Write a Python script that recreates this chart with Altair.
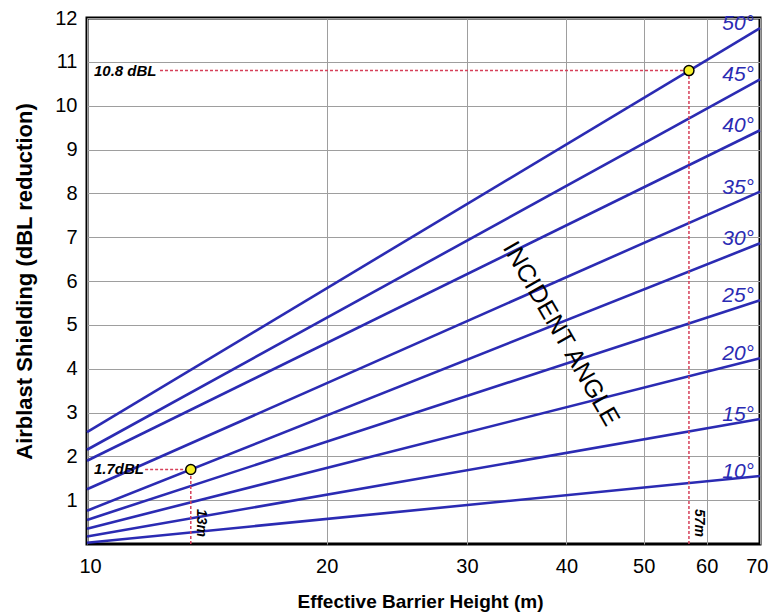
import altair as alt
import pandas as pd

# ---- data ----
angles = [10, 15, 20, 25, 30, 35, 40, 45, 50]
shield_at_10m = [0.03, 0.17, 0.35, 0.55, 0.76, 1.25, 1.9, 2.15, 2.55]
shield_at_70m = [1.55, 2.85, 4.24, 5.56, 6.86, 8.04, 9.44, 10.6, 11.77]
x_ends = [10, 70]

x_ticks = [10, 20, 30, 40, 50, 60, 70]
y_ticks = [1, 2, 3, 4, 5, 6, 7, 8, 9, 10, 11, 12]

example_height = [13.5, 57]
example_dbl = [1.7, 10.8]
example_dbl_labels = ["1.7dBL", "10.8 dBL"]
example_height_labels = ["13m", "57m"]
dash_start_x = [11.83, 12.35]

BLUE = "#2b2bb3"
RED = "#d6405a"
FONT = "Liberation Sans"

rows = []
for a, lo, hi in zip(angles, shield_at_10m, shield_at_70m):
    rows.append({"angle": a, "x": x_ends[0], "y": lo})
    rows.append({"angle": a, "x": x_ends[1], "y": hi})
lines_df = pd.DataFrame(rows)

labels_df = pd.DataFrame({
    "label": [f"{a}°" for a in angles],
    "x": [x_ends[1]] * len(angles),
    "y": shield_at_70m,
})

ex_df = pd.DataFrame({
    "h": example_height,
    "d": example_dbl,
    "x0": dash_start_x,
    "y0": [0, 0],
    "dlab": example_dbl_labels,
    "hlab": example_height_labels,
    "xl": [10, 10],
    "yl": [0.8, 0.8],
})

xscale = alt.Scale(type="log", domain=[10, 70], nice=False)
yscale = alt.Scale(domain=[0, 12], nice=False)

common = dict(grid=True, gridColor="#9e9e9e", gridWidth=1, domain=False, ticks=False,
              labelFont=FONT, labelColor="black", labelOverlap=False,
              titleFont=FONT, titleFontWeight="bold", titleColor="black")

x_axis = alt.Axis(
    values=x_ticks, format="d", title="Effective Barrier Height (m)",
    labelFontSize=20, labelPadding=12, labelFlush=True, labelFlushOffset=8,
    titleFontSize=19, titleX=333, titleY=57, titleBaseline="middle", **common)
y_axis = alt.Axis(
    values=y_ticks, title="Airblast Shielding (dBL reduction)",
    labelFontSize=20, labelPadding=10, labelFlush=False, titleFontSize=22,
    titleX=-63, titleY=263, titleBaseline="middle", titleAngle=270, **common)


def X(field):
    return alt.X(field, scale=xscale, axis=x_axis, title="Effective Barrier Height (m)")


def Y(field):
    return alt.Y(field, scale=yscale, axis=y_axis, title="Airblast Shielding (dBL reduction)")


lines = alt.Chart(lines_df).mark_line(color=BLUE, strokeWidth=2.6).encode(
    x=X("x:Q"), y=Y("y:Q"), detail="angle:N",
)

hdash = alt.Chart(ex_df).mark_rule(color=RED, strokeWidth=1.5, strokeDash=[3, 2]).encode(
    x=X("x0:Q"), x2="h:Q", y=Y("d:Q"),
)
vdash = alt.Chart(ex_df).mark_rule(color=RED, strokeWidth=1.5, strokeDash=[3, 2]).encode(
    x=X("h:Q"), y=Y("y0:Q"), y2="d:Q",
)
dots = alt.Chart(ex_df).mark_point(shape="circle", filled=True, fill="#f7f02a",
                                   stroke="black", strokeWidth=1.5, size=100, opacity=1).encode(
    x=X("h:Q"), y=Y("d:Q"),
)
dbl_text = alt.Chart(ex_df).mark_text(align="left", baseline="middle", dx=7, font=FONT,
                                      fontSize=15, fontStyle="italic", fontWeight="bold",
                                      color="black").encode(
    x=X("xl:Q"), y=Y("d:Q"), text="dlab:N",
)
h_text = alt.Chart(ex_df).mark_text(align="left", baseline="bottom", angle=90, dy=-3, font=FONT,
                                    fontSize=14, fontStyle="italic", fontWeight="bold",
                                    color="black").encode(
    x=X("h:Q"), y=Y("yl:Q"), text="hlab:N",
)
angle_text = alt.Chart(labels_df).mark_text(align="right", baseline="middle", dx=-6, dy=-4,
                                            font=FONT, fontSize=21, fontStyle="italic",
                                            color=BLUE).encode(
    x=X("x:Q"), y=Y("y:Q"), text="label:N",
)
incident = alt.Chart(pd.DataFrame({"x": [39.4], "y": [4.8], "t": ["INCIDENT ANGLE"]})).mark_text(
    angle=60, align="center", baseline="middle", font=FONT, fontSize=25, color="black"
).encode(
    x=X("x:Q"), y=Y("y:Q"), text="t:N",
)

chart = alt.layer(lines, hdash, vdash, dots, dbl_text, h_text, angle_text, incident).properties(
    width=673, height=526,
    autosize=alt.AutoSizeParams(type="none"),
    padding={"left": 79, "top": 10, "right": 8, "bottom": 70},
).configure_view(
    stroke="black", strokeWidth=3
)

chart.save("out.html", embed_options={"renderer": "svg", "actions": False})
